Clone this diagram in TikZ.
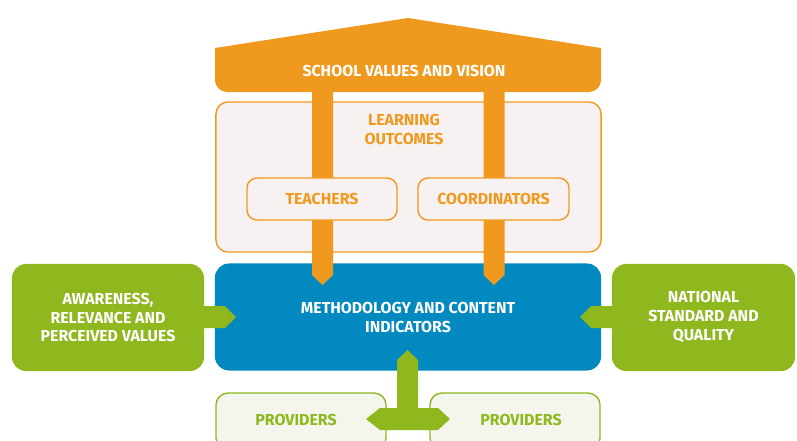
\documentclass[tikz,border=0pt]{standalone}
\usepackage{fontspec}
\setmainfont{Fira Sans}
\definecolor{schorange}{HTML}{EF9A1E}
\definecolor{schblue}{HTML}{0289C0}
\definecolor{schgreen}{HTML}{8FB71E}
\definecolor{lofill}{HTML}{F8F1F1}
\definecolor{provfill}{HTML}{F4F5EC}
\begin{document}
\begin{tikzpicture}[x=0.025cm, y=-0.025cm, font=\bfseries\fontsize{11.3}{13.5}\selectfont,
    panel/.style={draw=schorange, line width=1pt, fill=lofill, rounded corners=0.3cm, inner sep=0pt},
    block/.style={fill=#1, rounded corners=0.35cm, text=white, align=center, inner sep=0pt, minimum height=2.675cm},
    provbox/.style={draw=schgreen, line width=1pt, fill=provfill, rounded corners=0.3cm, minimum width=4.25cm, minimum height=1.425cm}]
  \useasboundingbox (0,0) rectangle (797,441);
  \clip (0,0) rectangle (797,441);
  % outcomes panel
  \node[panel, minimum width=9.625cm, minimum height=3.75cm] (outcomes) at (408.5,177) {};
  \node[text=schorange, align=center] (outtext) at (404,129) {LEARNING\\OUTCOMES};
  % middle row
  \node[block=schblue, minimum width=9.65cm] (method) at (408,317) {METHODOLOGY AND CONTENT\\INDICATORS};
  \node[block=schgreen, minimum width=4.8cm] (aware) at (108,317.5) {AWARENESS,\\RELEVANCE AND\\PERCEIVED VALUES};
  \node[block=schgreen, minimum width=4.575cm] (national) at (703.5,317.5) {NATIONAL\\STANDARD AND\\QUALITY};
  % pillars, running behind the two groups
  \foreach \x in {322.5,494} {\fill[schorange] (\x-10.5,80) -- (\x+10.5,80) -- (\x+10.5,275) -- (\x,285) -- (\x-10.5,275) -- cycle;}
  \node[panel, rounded corners=0.25cm, minimum width=3.75cm, minimum height=1.05cm, text=schorange] (teach) at (322,199) {TEACHERS};
  \node[panel, rounded corners=0.25cm, minimum width=3.775cm, minimum height=1.05cm, text=schorange] (coord) at (493.5,199) {COORDINATORS};
  % roof
  \fill[schorange] (215,70) -- (215,48) -- (408,18) -- (601,48) -- (601,70) [rounded corners=0.3cm] -- (601,92) -- (215,92) -- (215,70) -- cycle;
  \node[text=white] (roof) at (404,71) {SCHOOL VALUES AND VISION};
  % side arrows
  \fill[schgreen] (204,306) -- (225,306) -- (236,317) -- (225,328) -- (204,328) -- cycle;
  \fill[schgreen] (612,306) -- (591,306) -- (580,317) -- (591,328) -- (612,328) -- cycle;
  % providers
  \node[provbox] (provl) at (301,421.5) {};
  \node[provbox] (provr) at (515,421.5) {};
  \node[text=schgreen] (provltext) at (296,420) {PROVIDERS};
  \node[text=schgreen] (provrtext) at (521,420) {PROVIDERS};
  \fill[schgreen] (397,408) -- (397,360) -- (407.5,350) -- (418,360) -- (418,408) -- (438,408) -- (450,419)
    -- (438,430) -- (380,430) -- (366,419) -- (380,408) -- cycle;
\end{tikzpicture}
\end{document}
